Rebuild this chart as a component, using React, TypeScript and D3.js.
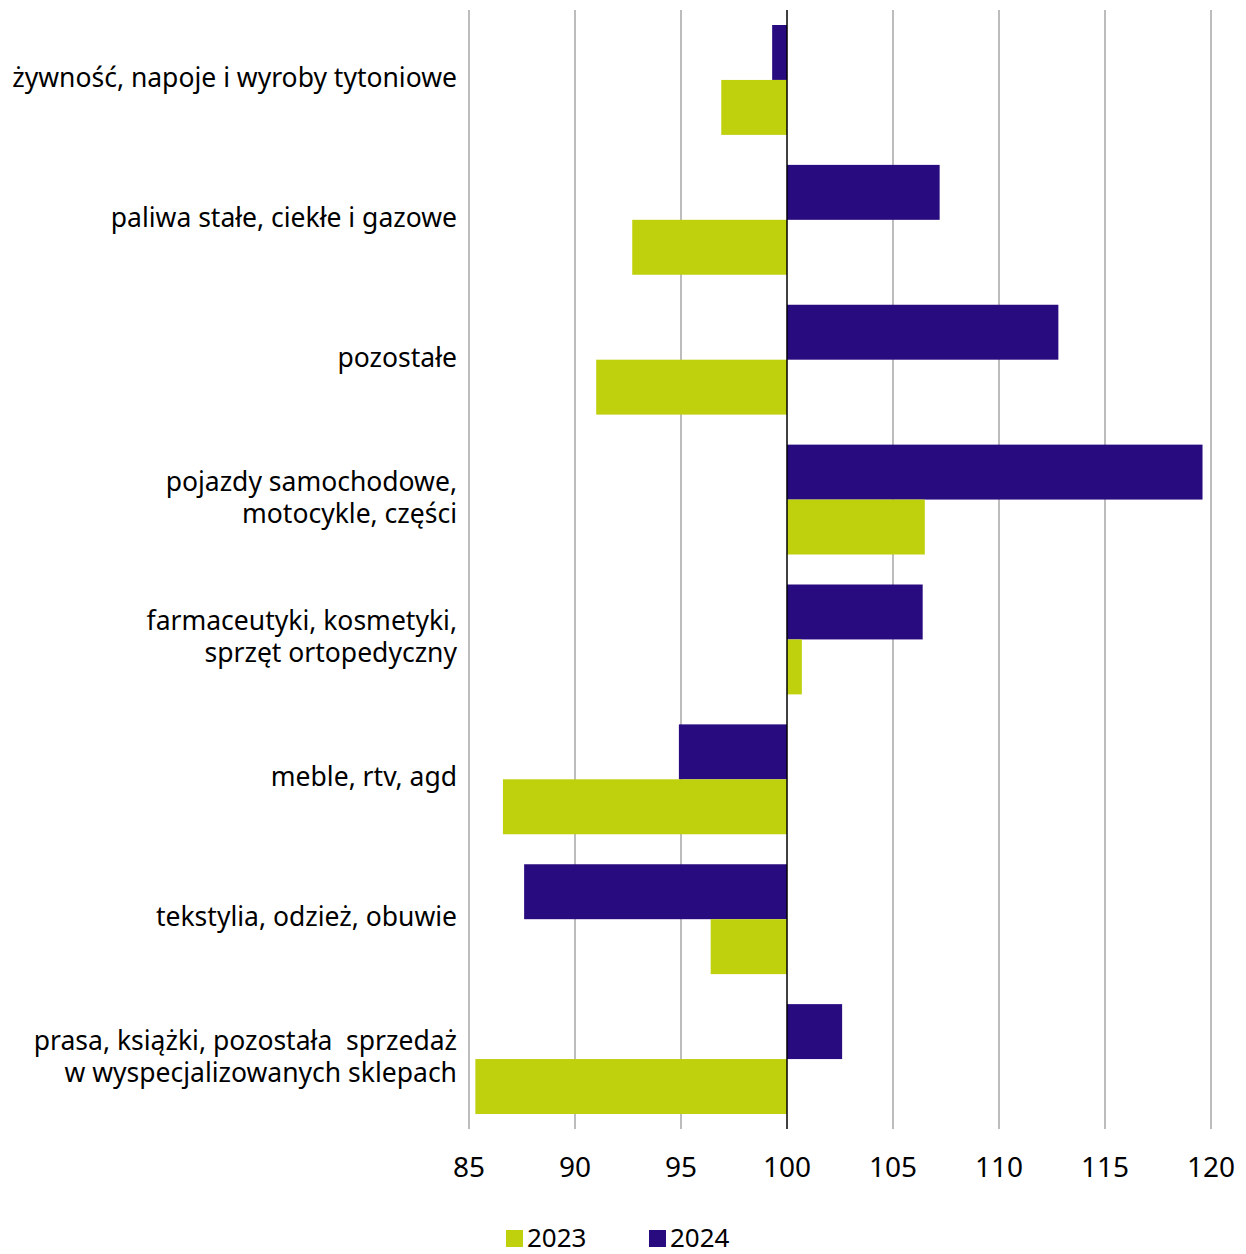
import React from "react";
import * as d3 from "d3";

const categories: string[][] = [
  ["żywność, napoje i wyroby tytoniowe"],
  ["paliwa stałe, ciekłe i gazowe"],
  ["pozostałe"],
  ["pojazdy samochodowe,", "motocykle, części"],
  ["farmaceutyki, kosmetyki,", "sprzęt ortopedyczny"],
  ["meble, rtv, agd"],
  ["tekstylia, odzież, obuwie"],
  ["prasa, książki, pozostała  sprzedaż", "w wyspecjalizowanych sklepach"],
];
const values2023 = [96.9, 92.7, 91.0, 106.5, 100.7, 86.6, 96.4, 85.3];
const values2024 = [99.3, 107.2, 112.8, 119.6, 106.4, 94.9, 87.6, 102.6];
const ticks = [85, 90, 95, 100, 105, 110, 115, 120];
const seriesNames = ["2023", "2024"];
const colors = ["#bfd00d", "#290b80"];

const W = 1246;
const H = 1254;
const FONT = "'Noto Sans', sans-serif";

export default function App() {
  const x = d3.scaleLinear().domain([85, 120]).range([469, 1211]);
  const y = d3
    .scaleBand<number>()
    .domain(categories.map((_, i) => i))
    .range([10, 1129])
    .paddingInner(0)
    .paddingOuter(0);
  const pad = 15;
  const bw = y.bandwidth();
  const barH = (bw - 2 * pad) / 2;
  const x0 = x(100);

  return (
    <svg
      width={W}
      height={H}
      style={{ position: "absolute", left: 0, top: 0, background: "#fff" }}
      fontFamily={FONT}
    >
      {ticks.map((t) =>
        t === 100 ? null : (
          <line key={t} x1={x(t)} x2={x(t)} y1={10} y2={1129} stroke="#999" strokeWidth={1.3} />
        )
      )}
      {categories.map((_, i) => {
        const top = (y(i) as number) + pad;
        const v24 = values2024[i];
        const v23 = values2023[i];
        return (
          <g key={i}>
            <rect
              x={Math.min(x(v24), x0)}
              y={top}
              width={Math.abs(x(v24) - x0)}
              height={barH}
              fill={colors[1]}
            />
            <rect
              x={Math.min(x(v23), x0)}
              y={top + barH}
              width={Math.abs(x(v23) - x0)}
              height={barH}
              fill={colors[0]}
            />
          </g>
        );
      })}
      <line x1={x0} x2={x0} y1={10} y2={1129} stroke="#000" strokeWidth={1.5} />
      {categories.map((lines, i) => {
        const c = (y(i) as number) + bw / 2;
        const lh = 32;
        const start = c - ((lines.length - 1) * lh) / 2 + 7;
        return (
          <text key={i} textAnchor="end" fontSize={26.5} fill="#000" style={{ whiteSpace: "pre" }}>
            {lines.map((l, j) => (
              <tspan key={j} x={457} y={start + j * lh}>
                {l}
              </tspan>
            ))}
          </text>
        );
      })}
      {ticks.map((t) => (
        <text key={t} x={x(t)} y={1177} textAnchor="middle" fontSize={28} fill="#000">
          {t}
        </text>
      ))}
      {seriesNames.map((s, i) => {
        const lx = [506, 649][i];
        return (
          <g key={s}>
            <rect x={lx} y={1230} width={17} height={17} fill={colors[i]} />
            <text x={lx + 21} y={1247} fontSize={26} fill="#000">
              {s}
            </text>
          </g>
        );
      })}
    </svg>
  );
}
